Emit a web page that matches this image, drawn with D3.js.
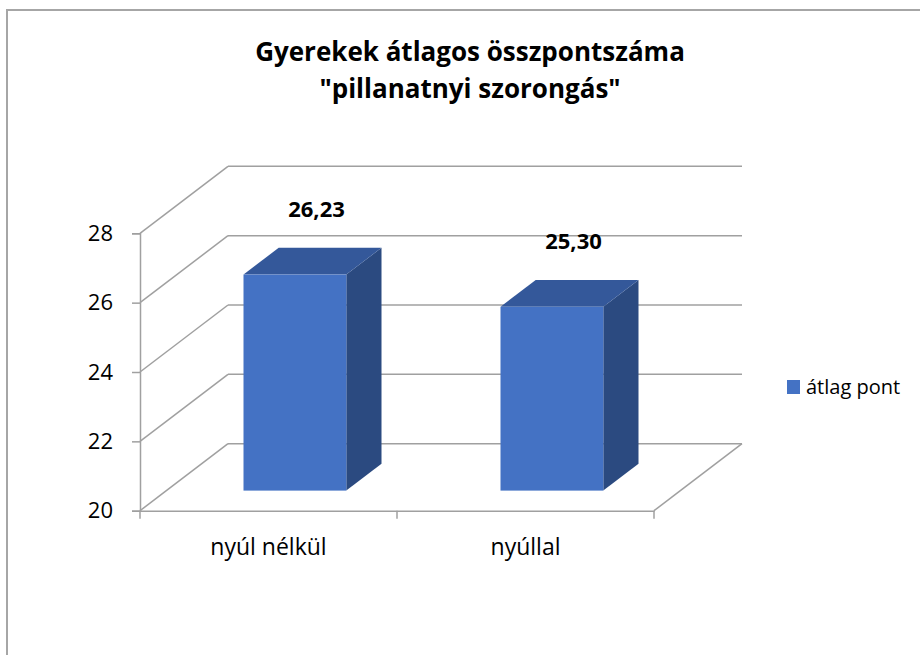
<!DOCTYPE html>
<html>
<head>
<meta charset="utf-8">
<script src="https://cdn.jsdelivr.net/npm/d3@7"></script>
<style>
  body { margin: 0; background: #fff; }
  text { font-family: "Open Sans", "Noto Sans", sans-serif; fill: #000; }
</style>
</head>
<body>
<div id="chart"></div>
<script>
// data
var titleLines = ["Gyerekek átlagos összpontszáma", "\"pillanatnyi szorongás\""];
var categories = ["nyúl nélkül", "nyúllal"];
var values = [26.23, 25.30];
var valueLabels = ["26,23", "25,30"];
var yTicks = [20, 22, 24, 26, 28];
var seriesName = "átlag pont";

var W = 920, H = 655;
var colors = { front: "#4472C4", top: "#34589A", side: "#2B4A80", grid: "#a0a0a0" };

var svg = d3.select('#chart').append('svg')
  .attr('width', W)
  .attr('height', H);

// frame (only top and left edges are visible in the crop)
svg.append('path')
  .attr('d', 'M7,' + H + 'V10H' + W)
  .attr('fill', 'none')
  .attr('stroke', '#a6a6a6')
  .attr('stroke-width', 2);

// title
svg.append('text')
  .attr('text-anchor', 'middle')
  .attr('font-weight', 'bold')
  .attr('font-size', 26)
  .selectAll('tspan')
  .data(titleLines)
  .enter().append('tspan')
  .attr('x', 470)
  .attr('y', function(d, i){ return 61 + i * 37; })
  .text(function(d){ return d; });

// scales: front plane + depth offset
var x = d3.scaleBand().domain(categories).range([140, 654]);
var y = d3.scaleLinear().domain([20, 28]).range([510.7, 233.3]);
var depth = { dx: 88, dy: -67 };
var dxAt = d3.scaleLinear().domain([0, 1]).range([0, depth.dx]);
var dyAt = d3.scaleLinear().domain([0, 1]).range([0, depth.dy]);

var grid = svg.append('g')
  .attr('stroke', colors.grid)
  .attr('stroke-width', 1.5)
  .attr('fill', 'none');

// back wall gridlines
grid.selectAll('.back')
  .data(yTicks)
  .enter().append('line')
  .attr('x1', x.range()[0] + depth.dx)
  .attr('x2', x.range()[1] + depth.dx)
  .attr('y1', function(d){ return y(d) + depth.dy; })
  .attr('y2', function(d){ return y(d) + depth.dy; });

// side wall diagonals
grid.selectAll('.side')
  .data(yTicks)
  .enter().append('line')
  .attr('x1', x.range()[0])
  .attr('x2', x.range()[0] + depth.dx)
  .attr('y1', function(d){ return y(d); })
  .attr('y2', function(d){ return y(d) + depth.dy; });

// floor right edge
grid.append('line')
  .attr('x1', x.range()[1])
  .attr('x2', x.range()[1] + depth.dx)
  .attr('y1', y(20))
  .attr('y2', y(20) + depth.dy);

// y axis
var yAxis = d3.axisLeft(y).tickValues(yTicks).tickSize(8).tickPadding(19);
var gy = svg.append('g')
  .attr('transform', 'translate(' + x.range()[0] + ',0)')
  .call(yAxis);

// x axis
var xAxis = d3.axisBottom(x).tickSize(0).tickPadding(28);
var gx = svg.append('g')
  .attr('transform', 'translate(0,' + y(20) + ')')
  .call(xAxis);

gx.selectAll('.tick-mark')
  .data([0, 1, 2])
  .enter().append('line')
  .attr('class', 'tick-mark')
  .attr('x1', function(d){ return x.range()[0] + d * x.step(); })
  .attr('x2', function(d){ return x.range()[0] + d * x.step(); })
  .attr('y1', 0)
  .attr('y2', 8);

[gy, gx].forEach(function(g){
  g.select('.domain').attr('stroke', colors.grid).attr('stroke-width', 1.5);
  g.selectAll('line').attr('stroke', colors.grid).attr('stroke-width', 1.5);
  g.selectAll('text')
    .attr('font-family', '"Open Sans", sans-serif')
    .attr('font-size', 22)
    .attr('fill', '#000');
});
gx.selectAll('text').attr('font-size', 23);

// bars
var f0 = 0.3, f1 = 0.7;   // depth fractions of the box
var barW = x.bandwidth() * 0.4;

var bars = svg.selectAll('.bar')
  .data(values)
  .enter().append('g')
  .attr('class', 'bar');

function pt(px, py){ return px + ',' + py; }

bars.each(function(v, i){
  var g = d3.select(this);
  var xl = x(categories[i]) + (x.bandwidth() - barW) / 2;
  var xr = xl + barW;
  var yt = y(v), yb = y(20);
  var ax = dxAt(f0), ay = dyAt(f0), bx = dxAt(f1), by = dyAt(f1);

  // right side
  g.append('polygon')
    .attr('fill', colors.side)
    .attr('points', [pt(xr + ax, yt + ay), pt(xr + bx, yt + by), pt(xr + bx, yb + by), pt(xr + ax, yb + ay)].join(' '));
  // top
  g.append('polygon')
    .attr('fill', colors.top)
    .attr('points', [pt(xl + ax, yt + ay), pt(xl + bx, yt + by), pt(xr + bx, yt + by), pt(xr + ax, yt + ay)].join(' '));
  // front
  g.append('rect')
    .attr('fill', colors.front)
    .attr('x', xl + ax)
    .attr('y', yt + ay)
    .attr('width', barW)
    .attr('height', yb - yt);
});

// value labels
svg.selectAll('.value-label')
  .data(values)
  .enter().append('text')
  .attr('class', 'value-label')
  .attr('x', function(d, i){ return x(categories[i]) + x.bandwidth() / 2 + 48; })
  .attr('y', function(d){ return y(d) + dyAt(0.5) - 52; })
  .attr('dy', '0.35em')
  .attr('text-anchor', 'middle')
  .attr('font-weight', 'bold')
  .attr('font-size', 22)
  .text(function(d, i){ return valueLabels[i]; });

// legend
var legend = svg.append('g').attr('transform', 'translate(787,380)');
legend.append('rect')
  .attr('width', 13)
  .attr('height', 14)
  .attr('fill', colors.front);
legend.append('text')
  .attr('x', 19)
  .attr('y', 7)
  .attr('dy', '0.35em')
  .attr('font-size', 20)
  .text(seriesName);
</script>
</body>
</html>
